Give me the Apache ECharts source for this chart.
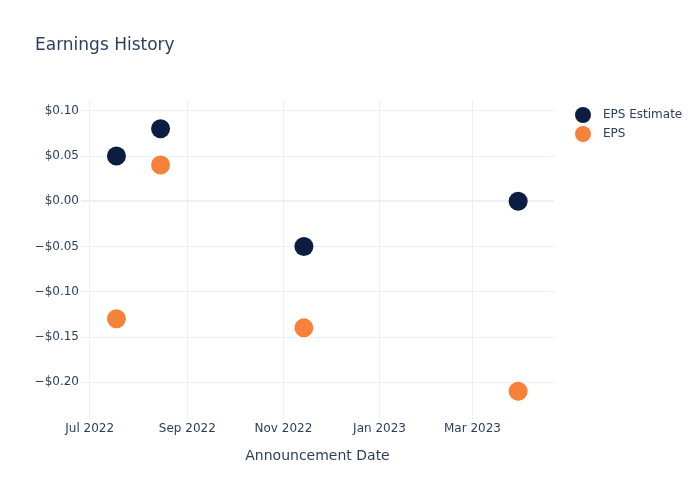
<!DOCTYPE html>
<html>
<head>
<meta charset="utf-8">
<script src="https://cdn.jsdelivr.net/npm/echarts@6/dist/echarts.min.js"></script>
<style>html,body{margin:0;padding:0;background:#fff}#c{width:700px;height:500px}</style>
</head>
<body>
<div id="c"></div>
<script>
const dates = ['2022-07-18', '2022-08-15', '2022-11-14', '2023-03-30'];
const epsEstimate = [0.05, 0.08, -0.05, 0.00];
const eps = [-0.13, 0.04, -0.14, -0.21];
const seriesNames = ['EPS Estimate', 'EPS'];
const monthNames = ['Jan','Feb','Mar','Apr','May','Jun','Jul','Aug','Sep','Oct','Nov','Dec'];
const xRange = ['2022-06-25T12:00:00', '2023-04-21T18:00:00'];
const yRange = [-0.2418, 0.1118];

const font = 'DejaVu Sans';
const txt = '#2a3f5f';
const grid = '#EBF0F8';

const chart = echarts.init(document.getElementById('c'), null, {renderer: 'canvas'});
function pairs(vals) { return dates.map((d, i) => [d, vals[i]]); }
function fmtMoney(v) {
  const s = '$' + Math.abs(v).toFixed(2);
  return v < -1e-9 ? '\u2212' + s : s;
}
chart.setOption({
  animation: false,
  backgroundColor: '#fff',
  textStyle: {fontFamily: font},
  title: {
    text: 'Earnings History', left: 35, top: 37, padding: 0,
    textStyle: {fontFamily: font, fontSize: 17, fontWeight: 'normal', color: txt}
  },
  legend: {
    data: seriesNames, orient: 'vertical', left: 570, top: 102,
    icon: 'circle', itemWidth: 16, itemHeight: 16, itemGap: 3,
    textStyle: {fontFamily: font, fontSize: 12, color: txt, padding: [0, 0, 0, 7]}
  },
  grid: {left: 81, right: 146, top: 100, bottom: 80, containLabel: false},
  xAxis: {
    type: 'time',
    min: xRange[0], max: xRange[1], splitNumber: 5,
    name: 'Announcement Date', nameLocation: 'middle', nameGap: 29,
    nameTextStyle: {fontFamily: font, fontSize: 14, color: txt},
    axisLine: {show: false}, axisTick: {show: false},
    axisLabel: {
      fontFamily: font, fontSize: 12, color: txt, margin: 3,
      formatter: function (v) { const d = new Date(v); return monthNames[d.getMonth()] + ' ' + d.getFullYear(); }
    },
    splitLine: {show: true, showMinLine: false, showMaxLine: false, lineStyle: {color: grid, width: 1}}
  },
  yAxis: {
    type: 'value', min: yRange[0], max: yRange[1], splitNumber: 7,
    axisLine: {show: false}, axisTick: {show: false},
    axisLabel: {fontFamily: font, fontSize: 12, color: txt, margin: 2, showMinLabel: false, showMaxLabel: false, formatter: fmtMoney},
    splitLine: {show: true, showMinLine: false, showMaxLine: false, lineStyle: {color: grid, width: 1}}
  },
  series: [
    {
      name: 'zero', type: 'line', data: [], z: 1, silent: true,
      markLine: {silent: true, z: 1, symbol: 'none', label: {show: false},
        lineStyle: {color: grid, width: 2, type: 'solid'}, data: [{yAxis: 0}]}
    },
    {
      name: seriesNames[0], type: 'scatter', z: 3, symbolSize: 19,
      itemStyle: {color: '#0b1e41', opacity: 1}, data: pairs(epsEstimate)
    },
    {
      name: seriesNames[1], type: 'scatter', z: 3, symbolSize: 19,
      itemStyle: {color: '#f6823a', opacity: 1}, data: pairs(eps)
    }
  ]
});
</script>
</body>
</html>
